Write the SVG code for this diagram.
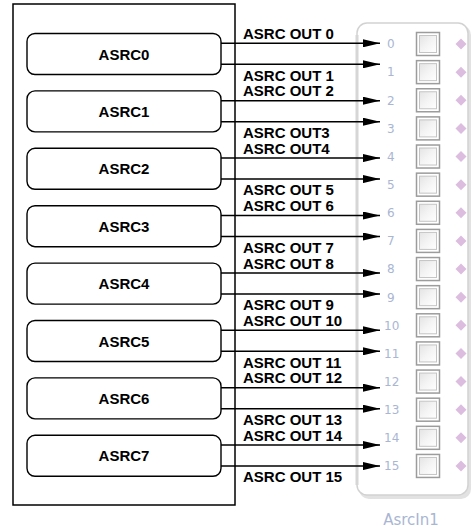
<svg xmlns="http://www.w3.org/2000/svg" xmlns:xlink="http://www.w3.org/1999/xlink" width="472" height="532" viewBox="0 0 472 532">
<style>
.outer{fill:#fff;stroke:#000;stroke-width:1.5}
.blk{fill:#fff;stroke:#000;stroke-width:1.4}
.bt{font-family:"Liberation Sans",Arial,sans-serif;font-weight:bold;font-size:15px;text-anchor:middle;fill:#000}
.lb{font-family:"Liberation Sans",Arial,sans-serif;font-weight:bold;font-size:15px;fill:#000}
.ln{stroke:#000;stroke-width:1.5;fill:none}
.num{font-family:"DejaVu Sans",Verdana,sans-serif;font-size:12px;fill:#a9b6d3}
.cap{font-family:"DejaVu Sans",Verdana,sans-serif;font-size:15px;fill:#a9b6d3;text-anchor:middle}
</style>
<defs>
<marker id="ah" viewBox="0 0 17 8" refX="17" refY="4" markerWidth="17" markerHeight="8" markerUnits="userSpaceOnUse" orient="auto">
<path d="M0,0 L17,4 L0,8 Z" fill="#000"/>
</marker>
<linearGradient id="cbg" x1="0" y1="0" x2="1" y2="1">
<stop offset="0" stop-color="#e4e4e4"/>
<stop offset="0.5" stop-color="#f4f4f4"/>
<stop offset="1" stop-color="#ffffff"/>
</linearGradient>
<g id="cb">
<rect x="-11.5" y="-11.5" width="23" height="23" fill="#fff" stroke="#9c9c9c" stroke-width="1.5"/>
<rect x="-8.5" y="-8.5" width="17" height="17" fill="url(#cbg)" stroke="#c4c4c4" stroke-width="1"/>
</g>
<path id="dm" d="M0,-5.5 L5.5,0 L0,5.5 L-5.5,0 Z" fill="#dcbde0"/>
</defs>
<g id="container">
<rect class="outer" x="13" y="4" width="222" height="501"/>
</g>
<g id="asrc0"><rect class="blk" x="27" y="33.5" width="194" height="41" rx="8"/><text class="bt" x="124" y="59.5">ASRC0</text></g>
<g id="asrc1"><rect class="blk" x="27" y="90.9" width="194" height="41" rx="8"/><text class="bt" x="124" y="116.9">ASRC1</text></g>
<g id="asrc2"><rect class="blk" x="27" y="148.3" width="194" height="41" rx="8"/><text class="bt" x="124" y="174.3">ASRC2</text></g>
<g id="asrc3"><rect class="blk" x="27" y="205.7" width="194" height="41" rx="8"/><text class="bt" x="124" y="231.7">ASRC3</text></g>
<g id="asrc4"><rect class="blk" x="27" y="263.1" width="194" height="41" rx="8"/><text class="bt" x="124" y="289.1">ASRC4</text></g>
<g id="asrc5"><rect class="blk" x="27" y="320.5" width="194" height="41" rx="8"/><text class="bt" x="124" y="346.5">ASRC5</text></g>
<g id="asrc6"><rect class="blk" x="27" y="377.9" width="194" height="41" rx="8"/><text class="bt" x="124" y="403.9">ASRC6</text></g>
<g id="asrc7"><rect class="blk" x="27" y="435.3" width="194" height="41" rx="8"/><text class="bt" x="124" y="461.3">ASRC7</text></g>
<g id="asrcin1">
<rect x="359" y="25" width="112" height="474" rx="10" fill="#e2e2e2"/>
<rect x="357" y="23" width="111" height="472" rx="10" fill="#fff" stroke="#d2d2d2" stroke-width="1.5"/>
<line x1="357" y1="35" x2="357" y2="485" stroke="#d6d6d6" stroke-width="3"/>
<text class="num" x="387" y="48.3">0</text>
<text class="num" x="387" y="76.4">1</text>
<text class="num" x="387" y="104.6">2</text>
<text class="num" x="387" y="132.7">3</text>
<text class="num" x="387" y="160.8">4</text>
<text class="num" x="387" y="189">5</text>
<text class="num" x="387" y="217.1">6</text>
<text class="num" x="387" y="245.2">7</text>
<text class="num" x="387" y="273.3">8</text>
<text class="num" x="387" y="301.5">9</text>
<text class="num" x="384" y="329.6">10</text>
<text class="num" x="384" y="357.7">11</text>
<text class="num" x="384" y="385.9">12</text>
<text class="num" x="384" y="414">13</text>
<text class="num" x="384" y="442.1">14</text>
<text class="num" x="384" y="470.3">15</text>
<use xlink:href="#cb" x="428" y="44"/>
<use xlink:href="#cb" x="428" y="72.13"/>
<use xlink:href="#cb" x="428" y="100.26"/>
<use xlink:href="#cb" x="428" y="128.39"/>
<use xlink:href="#cb" x="428" y="156.52"/>
<use xlink:href="#cb" x="428" y="184.65"/>
<use xlink:href="#cb" x="428" y="212.78"/>
<use xlink:href="#cb" x="428" y="240.91"/>
<use xlink:href="#cb" x="428" y="269.04"/>
<use xlink:href="#cb" x="428" y="297.17"/>
<use xlink:href="#cb" x="428" y="325.3"/>
<use xlink:href="#cb" x="428" y="353.43"/>
<use xlink:href="#cb" x="428" y="381.56"/>
<use xlink:href="#cb" x="428" y="409.69"/>
<use xlink:href="#cb" x="428" y="437.82"/>
<use xlink:href="#cb" x="428" y="465.95"/>
<use xlink:href="#dm" x="461" y="44"/>
<use xlink:href="#dm" x="461" y="72.13"/>
<use xlink:href="#dm" x="461" y="100.26"/>
<use xlink:href="#dm" x="461" y="128.39"/>
<use xlink:href="#dm" x="461" y="156.52"/>
<use xlink:href="#dm" x="461" y="184.65"/>
<use xlink:href="#dm" x="461" y="212.78"/>
<use xlink:href="#dm" x="461" y="240.91"/>
<use xlink:href="#dm" x="461" y="269.04"/>
<use xlink:href="#dm" x="461" y="297.17"/>
<use xlink:href="#dm" x="461" y="325.3"/>
<use xlink:href="#dm" x="461" y="353.43"/>
<use xlink:href="#dm" x="461" y="381.56"/>
<use xlink:href="#dm" x="461" y="409.69"/>
<use xlink:href="#dm" x="461" y="437.82"/>
<use xlink:href="#dm" x="461" y="465.95"/>
<text class="cap" x="411" y="525">AsrcIn1</text>
</g>
<g id="connectors">
<line class="ln" x1="221" y1="43.3" x2="380" y2="43.3" marker-end="url(#ah)"/>
<line class="ln" x1="221" y1="64.3" x2="380" y2="64.3" marker-end="url(#ah)"/>
<line class="ln" x1="221" y1="100.7" x2="380" y2="100.7" marker-end="url(#ah)"/>
<line class="ln" x1="221" y1="121.7" x2="380" y2="121.7" marker-end="url(#ah)"/>
<line class="ln" x1="221" y1="158.1" x2="380" y2="158.1" marker-end="url(#ah)"/>
<line class="ln" x1="221" y1="179.1" x2="380" y2="179.1" marker-end="url(#ah)"/>
<line class="ln" x1="221" y1="215.5" x2="380" y2="215.5" marker-end="url(#ah)"/>
<line class="ln" x1="221" y1="236.5" x2="380" y2="236.5" marker-end="url(#ah)"/>
<line class="ln" x1="221" y1="272.9" x2="380" y2="272.9" marker-end="url(#ah)"/>
<line class="ln" x1="221" y1="293.9" x2="380" y2="293.9" marker-end="url(#ah)"/>
<line class="ln" x1="221" y1="330.3" x2="380" y2="330.3" marker-end="url(#ah)"/>
<line class="ln" x1="221" y1="351.3" x2="380" y2="351.3" marker-end="url(#ah)"/>
<line class="ln" x1="221" y1="387.7" x2="380" y2="387.7" marker-end="url(#ah)"/>
<line class="ln" x1="221" y1="408.7" x2="380" y2="408.7" marker-end="url(#ah)"/>
<line class="ln" x1="221" y1="445.1" x2="380" y2="445.1" marker-end="url(#ah)"/>
<line class="ln" x1="221" y1="466.1" x2="380" y2="466.1" marker-end="url(#ah)"/>
<text class="lb" x="243" y="39">ASRC OUT 0</text>
<text class="lb" x="243" y="80.5">ASRC OUT 1</text>
<text class="lb" x="243" y="96.4">ASRC OUT 2</text>
<text class="lb" x="243" y="137.9">ASRC OUT3</text>
<text class="lb" x="243" y="153.8">ASRC OUT4</text>
<text class="lb" x="243" y="195.3">ASRC OUT 5</text>
<text class="lb" x="243" y="211.2">ASRC OUT 6</text>
<text class="lb" x="243" y="252.7">ASRC OUT 7</text>
<text class="lb" x="243" y="268.6">ASRC OUT 8</text>
<text class="lb" x="243" y="310.1">ASRC OUT 9</text>
<text class="lb" x="243" y="326">ASRC OUT 10</text>
<text class="lb" x="243" y="367.5">ASRC OUT 11</text>
<text class="lb" x="243" y="383.4">ASRC OUT 12</text>
<text class="lb" x="243" y="424.9">ASRC OUT 13</text>
<text class="lb" x="243" y="440.8">ASRC OUT 14</text>
<text class="lb" x="243" y="482.3">ASRC OUT 15</text>
</g>
</svg>
